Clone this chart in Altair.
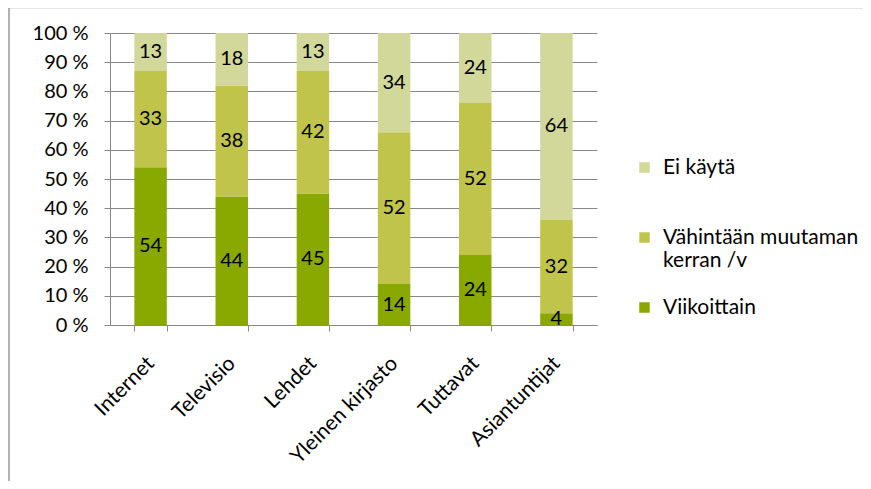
import altair as alt
import pandas as pd

categories = ["Internet", "Televisio", "Lehdet", "Yleinen kirjasto", "Tuttavat", "Asiantuntijat"]
series = ["Viikoittain", "Vähintään muutaman kerran /v", "Ei käytä"]
viikoittain = [54, 44, 45, 14, 24, 4]
vahintaan = [33, 38, 42, 52, 52, 32]
ei_kayta = [13, 18, 13, 34, 24, 64]
colors = ["#89A800", "#C0C44A", "#D1D899"]
y_ticks = [0, 10, 20, 30, 40, 50, 60, 70, 80, 90, 100]

rows = []
for i, c in enumerate(categories):
    for j, (s, vals) in enumerate(zip(series, [viikoittain, vahintaan, ei_kayta])):
        rows.append({"cat": c, "series": s, "value": vals[i], "ord": j})
df = pd.DataFrame(rows)

FONT = "Lato"
W, H = 487, 292

base = alt.Chart(df).transform_stack(
    stack="value", groupby=["cat"], sort=[alt.SortField("ord", "ascending")], as_=["y0", "y1"]
).transform_calculate(mid="(datum.y0 + datum.y1) / 2")

xaxis = alt.Axis(labelAngle=-45, labelAlign="right", labelBaseline="middle",
                 labelPadding=29, tickBand="extent", tickSize=6,
                 domainColor="#888888", tickColor="#888888", labelOverlap=False,
                 labelFont=FONT, labelFontSize=21, labelColor="#000000", grid=False)
yaxis = alt.Axis(values=y_ticks, labelExpr="datum.value + ' %'", grid=True,
                 gridColor="#888888", domainColor="#888888", tickColor="#888888",
                 tickSize=6, labelPadding=16, labelFont=FONT, labelFontSize=20,
                 labelOverlap=False, labelColor="#000000")
yscale = alt.Scale(domain=[0, 100], nice=False)

legend_expr = ("datum.label == 'Vähintään muutaman kerran /v' ? ['Vähintään muutaman', 'kerran /v'] "
               ": [datum.label, '']")

bars = base.mark_bar(stroke=None).encode(
    x=alt.X("cat:N", sort=categories, title=None,
            scale=alt.Scale(paddingInner=0.6, paddingOuter=0.3), axis=xaxis),
    y=alt.Y("y0:Q", title=None, scale=yscale, axis=yaxis),
    y2="y1:Q",
    color=alt.Color("series:N", sort=series,
                    scale=alt.Scale(domain=series, range=colors),
                    legend=alt.Legend(title=None, orient="none", legendX=524, legendY=124,
                                      direction="vertical",
                                      values=list(reversed(series)),
                                      symbolType="square", symbolSize=110, symbolStrokeWidth=0,
                                      labelFont=FONT, labelFontSize=21, labelColor="#000000",
                                      rowPadding=25, labelLimit=300, labelOffset=8,
                                      labelExpr=legend_expr)),
)

labels = base.mark_text(font=FONT, fontSize=20, color="#000000", baseline="middle").encode(
    x=alt.X("cat:N", sort=categories, title=None, axis=xaxis),
    y=alt.Y("mid:Q", title=None, scale=yscale, axis=yaxis),
    text=alt.Text("value:Q"),
)

frame = alt.Chart(pd.DataFrame({"k": [0]})).mark_rule(color="#999999", strokeWidth=1.5).encode(
    x=alt.value(-101), x2=alt.value(900), y=alt.value(-25.5)
)
frame2 = alt.Chart(pd.DataFrame({"k": [0]})).mark_rule(color="#999999", strokeWidth=1.5).encode(
    x=alt.value(-101), y=alt.value(-26), y2=alt.value(500)
)

chart = alt.layer(bars, labels, frame, frame2).properties(
    width=W, height=H,
    autosize=alt.AutoSizeParams(type="none"),
    padding={"left": 102, "top": 25, "right": 266, "bottom": 156},
).configure_view(stroke=None).configure_axis(domainWidth=1, gridWidth=1)

chart.save("out.html", embed_options={"renderer": "svg", "actions": False})
